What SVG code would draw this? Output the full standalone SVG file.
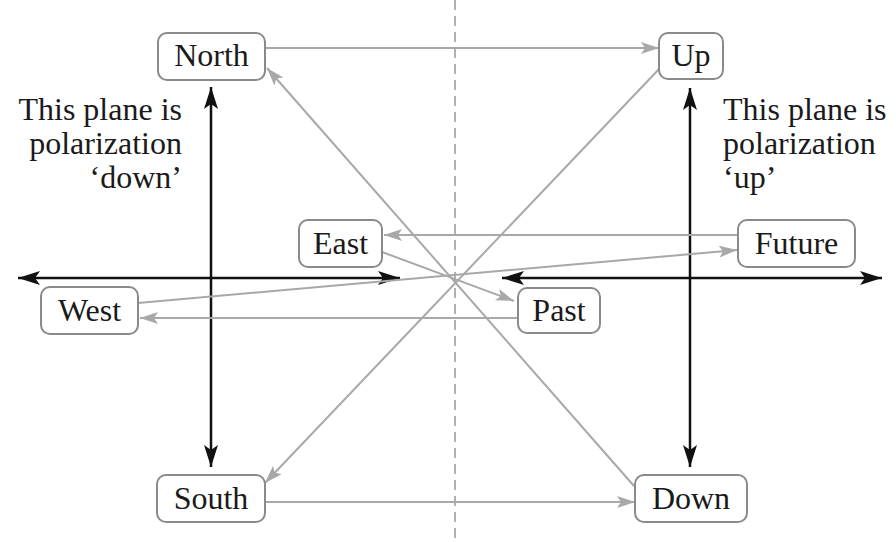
<svg xmlns="http://www.w3.org/2000/svg" width="896" height="542" viewBox="0 0 896 542">
  <defs>
    <marker id="grayHead" markerUnits="userSpaceOnUse" markerWidth="20" markerHeight="14" refX="18" refY="6" orient="auto">
      <path d="M0,0 L18,6 L0,12 L4,6 Z" fill="#a8a8a8"/>
    </marker>
    <marker id="blackHead" markerUnits="userSpaceOnUse" markerWidth="24" markerHeight="16" refX="22" refY="7" orient="auto">
      <path d="M0,0 L22,7 L0,14 L5,7 Z" fill="#111"/>
    </marker>
    <marker id="blackTail" markerUnits="userSpaceOnUse" markerWidth="24" markerHeight="16" refX="0" refY="7" orient="auto">
      <path d="M22,0 L0,7 L22,14 L17,7 Z" fill="#111"/>
    </marker>
  </defs>
  <style>
    .box { fill: #fff; stroke: #8a8a8a; stroke-width: 2; }
    .label { font-family: "Liberation Serif", "Times New Roman", serif; font-size: 32px; fill: #1a1a1a; text-anchor: middle; }
    .note { font-family: "Liberation Serif", "Times New Roman", serif; font-size: 32px; fill: #1a1a1a; }
    .link { stroke: #a8a8a8; stroke-width: 2; fill: none; marker-end: url(#grayHead); }
    .axis { stroke: #111; stroke-width: 2.5; fill: none; marker-start: url(#blackTail); marker-end: url(#blackHead); }
    .divider { stroke: #b0b0b0; stroke-width: 2; stroke-dasharray: 10 6; }
  </style>
  <rect width="896" height="542" fill="#fff"/>

  <!-- dividing plane -->
  <line class="divider" x1="455" y1="0" x2="455" y2="542"/>

  <!-- polarization planes -->
  <g id="axes">
    <line class="axis" x1="18" y1="278" x2="400" y2="278"/>
    <line class="axis" x1="502" y1="278" x2="882" y2="278"/>
    <line class="axis" x1="211" y1="87" x2="211" y2="467"/>
    <line class="axis" x1="690" y1="88" x2="690" y2="467"/>
  </g>

  <!-- connectors -->
  <g id="connectors">
    <line class="link" x1="265" y1="48" x2="659" y2="48"/>
    <line class="link" x1="265" y1="502" x2="635" y2="502"/>
    <line class="link" x1="634" y1="486" x2="267" y2="68"/>
    <line class="link" x1="660" y1="68" x2="265" y2="483"/>
    <line class="link" x1="738" y1="235" x2="384" y2="235"/>
    <line class="link" x1="518" y1="318" x2="140" y2="318"/>
    <line class="link" x1="138" y1="303" x2="737" y2="250"/>
    <line class="link" x1="382" y1="252" x2="514" y2="301"/>
  </g>

  <g id="north">
    <rect class="box" x="158" y="33" width="107" height="47" rx="9"/>
    <text class="label" x="211.5" y="66">North</text>
  </g>
  <g id="up">
    <rect class="box" x="659" y="33" width="64" height="46" rx="9"/>
    <text class="label" x="691" y="66">Up</text>
  </g>
  <g id="east">
    <rect class="box" x="299" y="220" width="83" height="47" rx="9"/>
    <text class="label" x="340.5" y="254">East</text>
  </g>
  <g id="future">
    <rect class="box" x="738" y="220" width="117" height="47" rx="9"/>
    <text class="label" x="796.5" y="254">Future</text>
  </g>
  <g id="west">
    <rect class="box" x="41" y="287" width="97" height="47" rx="9"/>
    <text class="label" x="89.5" y="321">West</text>
  </g>
  <g id="past">
    <rect class="box" x="518" y="288" width="82" height="45" rx="9"/>
    <text class="label" x="559" y="321">Past</text>
  </g>
  <g id="south">
    <rect class="box" x="157" y="475" width="108" height="47" rx="9"/>
    <text class="label" x="211" y="509">South</text>
  </g>
  <g id="down">
    <rect class="box" x="635" y="475" width="112" height="47" rx="9"/>
    <text class="label" x="691" y="509">Down</text>
  </g>

  <!-- plane notes -->
  <g id="note-down">
    <text class="note" text-anchor="end" x="182" y="120">This plane is</text>
    <text class="note" text-anchor="end" x="182" y="154">polarization</text>
    <text class="note" text-anchor="end" x="182" y="188">‘down’</text>
  </g>
  <g id="note-up">
    <text class="note" x="723" y="120">This plane is</text>
    <text class="note" x="723" y="154">polarization</text>
    <text class="note" x="723" y="188">‘up’</text>
  </g>
</svg>
